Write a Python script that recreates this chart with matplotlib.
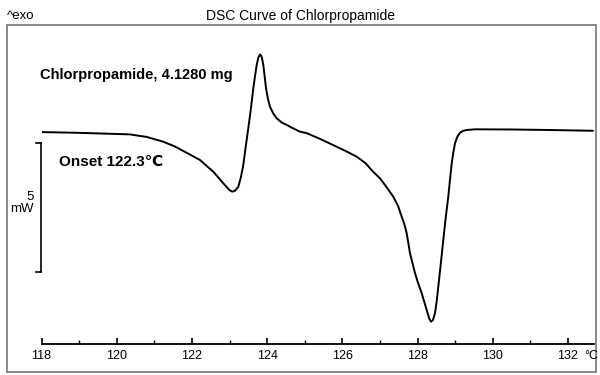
import matplotlib
matplotlib.use("Agg")
import matplotlib.pyplot as plt
from matplotlib.patches import Rectangle
from matplotlib.lines import Line2D

plt.rcParams['font.family'] = ['Liberation Sans', 'DejaVu Sans']

# Temperature (°C) and heat flow (mW, exo up, baseline ~0)
temperature = [118.0, 119.0, 120.35, 120.8, 121.23, 121.55, 121.87, 122.215, 122.569, 122.835,
               123.0, 123.074, 123.15, 123.234, 123.30, 123.367, 123.43, 123.50, 123.57, 123.633,
               123.68, 123.723, 123.77, 123.819, 123.86, 123.899, 123.935, 123.971, 124.02, 124.077,
               124.16, 124.255, 124.38, 124.521, 124.70, 124.875, 125.05, 125.4, 125.75, 126.07,
               126.38, 126.62, 126.82, 127.0, 127.136, 127.356, 127.48, 127.58, 127.65, 127.713,
               127.801, 127.934, 128.02, 128.112, 128.18, 128.245, 128.31, 128.359, 128.41, 128.465,
               128.51, 128.553, 128.62, 128.686, 128.75, 128.819, 128.865, 128.91, 128.955, 128.997,
               129.06, 129.13, 129.21, 129.309, 129.529, 130.5, 131.5, 132.67]
heat_flow = [-0.08, -0.11, -0.17, -0.27, -0.45, -0.64, -0.89, -1.163, -1.616, -2.066,
             -2.33, -2.391, -2.35, -2.198, -1.85, -1.357, -0.66, 0.066, 0.84, 1.616,
             2.10, 2.519, 2.82, 2.934, 2.82, 2.519, 2.08, 1.616, 1.22, 0.903,
             0.65, 0.453, 0.30, 0.194, 0.06, -0.066, -0.12, -0.34, -0.58, -0.80,
             -1.03, -1.29, -1.62, -1.87, -2.132, -2.585, -2.93, -3.36, -3.65, -4.004,
             -4.779, -5.554, -5.95, -6.329, -6.66, -6.977, -7.30, -7.43, -7.37, -7.105,
             -6.65, -6.074, -5.18, -4.264, -3.40, -2.585, -1.91, -1.291, -0.85, -0.516,
             -0.26, -0.105, -0.035, 0.0, 0.027, 0.02, 0.0, -0.03]

major_ticks = [118, 120, 122, 124, 126, 128, 130, 132]
minor_ticks = [119, 121, 123, 125, 127, 129, 131]
tick_labels = ["118", "120", "122", "124", "126", "128", "130", "132"]

title = "DSC Curve of Chlorpropamide"
sample_label = "Chlorpropamide, 4.1280 mg"
onset_label = "Onset 122.3℃"
scale_mw = 5

W, H = 600, 375
fig = plt.figure(figsize=(6, 3.75), dpi=100)

def fx(px):
    return px / W

def fy(py):
    return 1 - py / H

# outer frame
fig.patches.append(Rectangle((fx(7), fy(372)), fx(596) - fx(7), fy(25) - fy(372),
                             transform=fig.transFigure, fill=False,
                             edgecolor='#808080', linewidth=1.3))

ax_left, ax_right = 41.5, 594
ax_top, ax_bottom = 25, 344
ax = fig.add_axes([fx(ax_left), fy(ax_bottom), fx(ax_right) - fx(ax_left), fy(ax_top) - fy(ax_bottom)])
ax.set_facecolor('none')
px_per_deg = 37.6
px_per_mw = 25.8
ax.set_xlim(118, 118 + (ax_right - ax_left) / px_per_deg)
ax.set_ylim(-(ax_bottom - 130) / px_per_mw, (130 - ax_top) / px_per_mw)

ax.plot(temperature, heat_flow, color='black', linewidth=1.4,
        solid_joinstyle='round', solid_capstyle='round', antialiased=True)

for s in ['top', 'right', 'left']:
    ax.spines[s].set_visible(False)
ax.spines['bottom'].set_linewidth(1.3)
ax.set_yticks([])
ax.set_xticks(major_ticks)
ax.set_xticklabels(tick_labels)
ax.set_xticks(minor_ticks, minor=True)
ax.tick_params(axis='x', which='major', direction='in', length=4, width=1.2,
               labelsize=9, pad=4)
ax.tick_params(axis='x', which='minor', direction='in', length=3, width=1.0)

# °C unit after the last tick label
fig.text(fx(584), fy(356), "°C", fontsize=9, ha='left', va='center')

# title and exo label
fig.text(0.5, fy(16), title, fontsize=10, ha='center', va='center')
fig.text(fx(7), fy(16), "^exo", fontsize=9.5, ha='left', va='center')

# 5 mW scale bar
bx, btop, bbot = 41, 143, 272
fig.add_artist(Line2D([fx(bx), fx(bx)], [fy(btop), fy(bbot)], transform=fig.transFigure,
                      color='black', linewidth=1.2))
for yy in (btop, bbot):
    fig.add_artist(Line2D([fx(bx - 5), fx(bx)], [fy(yy), fy(yy)], transform=fig.transFigure,
                          color='black', linewidth=1.2))
fig.text(fx(34), fy(203), f"{scale_mw}\nmW", fontsize=9.5, ha='right', va='center',
         multialignment='right', linespacing=1.1)

fig.text(fx(40), fy(75), sample_label, fontsize=10.5, fontweight='bold', ha='left', va='center')
fig.text(fx(59), fy(162), onset_label, fontsize=11, fontweight='bold', ha='left', va='center')

fig.savefig("out.png", dpi=100)
